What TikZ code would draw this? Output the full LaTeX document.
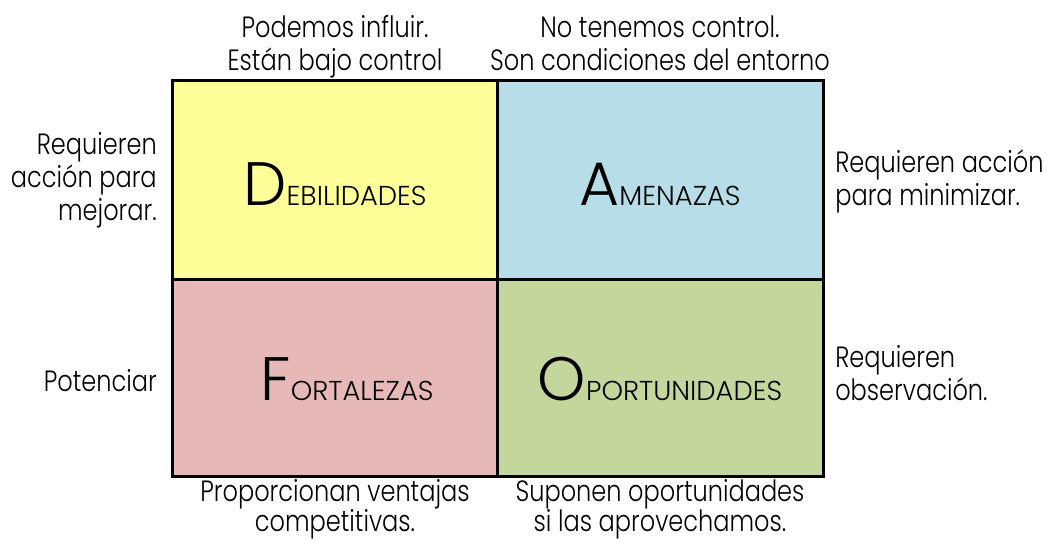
\documentclass[tikz,border=0pt]{standalone}
\usepackage{fontspec}
\setmainfont{Poppins Light}[FakeStretch=0.82]
\newfontfamily\capsfont{Poppins Light}
\newfontfamily\bigfont{Poppins Light}
\definecolor{cyel}{HTML}{FFFF99}
\definecolor{cblu}{HTML}{B7DDE8}
\definecolor{cpnk}{HTML}{E6B9B8}
\definecolor{cgrn}{HTML}{C3D69B}
\begin{document}
\begin{tikzpicture}[x=0.75pt,y=-0.75pt,
  lbl/.style={inner sep=0pt,font=\fontsize{22}{26}\selectfont},
  cellbox/.style={draw=black,line width=2.25pt},
  title/.style={inner sep=0pt,anchor=base}]
\newcommand{\swot}[2]{{\bigfont\fontsize{46}{50}\selectfont #1}{\capsfont\fontsize{20.5}{24}\selectfont #2}}
\useasboundingbox (0,0) rectangle (1048,545);
\fill[white] (0,0) rectangle (1048,545);
% cells
\path[cellbox,fill=cyel] (172,81) rectangle (497,279);
\path[cellbox,fill=cblu] (497,81) rectangle (823,279);
\path[cellbox,fill=cpnk] (172,279) rectangle (497,476);
\path[cellbox,fill=cgrn] (497,279) rectangle (823,476);
% titles
\node[title] (d) at (335,205) {\swot{D}{EBILIDADES}};
\node[title] (a) at (660,205) {\swot{A}{MENAZAS}};
\node[title] (f) at (347,400) {\swot{F}{ORTALEZAS}};
\node[title] (o) at (660,400) {\swot{O}{PORTUNIDADES}};
% top labels
\node[lbl,anchor=base] (t1) at (335,38) {Podemos influir.};
\node[lbl,anchor=base] (t2) at (335,71) {Están bajo control};
\node[lbl,anchor=base] (t3) at (660,38) {No tenemos control.};
\node[lbl,anchor=base] (t4) at (660,71) {Son condiciones del entorno};
% left labels
\node[lbl,anchor=base east] (l1) at (157,155) {Requieren};
\node[lbl,anchor=base east] (l2) at (157,188) {acción para};
\node[lbl,anchor=base east] (l3) at (157,221) {mejorar.};
\node[lbl,anchor=base east] (l4) at (157,391) {Potenciar};
% right labels
\node[lbl,anchor=base west] (r1) at (835,173) {Requieren acción};
\node[lbl,anchor=base west] (r2) at (835,206) {para minimizar.};
\node[lbl,anchor=base west] (r3) at (835,367) {Requieren};
\node[lbl,anchor=base west] (r4) at (835,400) {observación.};
% bottom labels
\node[lbl,anchor=base] (b1) at (335,501) {Proporcionan ventajas};
\node[lbl,anchor=base] (b2) at (335,531) {competitivas.};
\node[lbl,anchor=base] (b3) at (660,501) {Suponen oportunidades};
\node[lbl,anchor=base] (b4) at (660,531) {si las aprovechamos.};
\end{tikzpicture}
\end{document}
